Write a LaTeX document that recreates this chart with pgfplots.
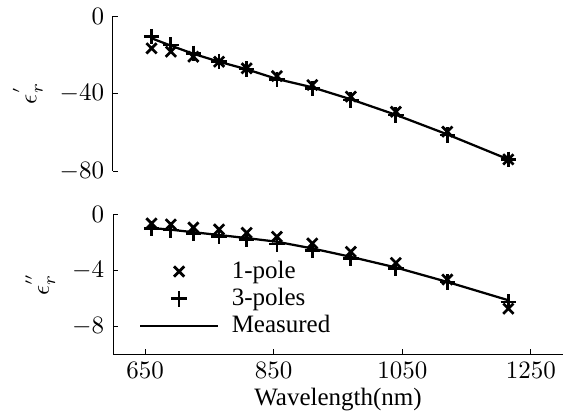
\documentclass[border=0pt]{standalone}
\usepackage{fontspec}
\setmainfont{Liberation Serif}
\usepackage{pgfplots}
\pgfplotsset{compat=1.18}

\begin{document}
\begin{tikzpicture}
\path[use as bounding box] (-45.2pt,-25.6pt) rectangle (184.4pt,141.6pt);
\pgfplotsset{
  epsax/.style={
    scale only axis,
    width=180pt,
    xmin=600, xmax=1300,
    axis y line*=left,
    axis line style={-, line width=0.4pt},
    tick align=inside,
    major tick length=2pt,
    tick style={black, line width=0.4pt},
    anchor=south west,
    xticklabel style={/pgf/number format/1000 sep={}},
  },
  onepole/.style={only marks, mark=x, mark size=2.9pt, line width=1.1pt, black},
  threepole/.style={only marks, mark=+, mark size=3.1pt, line width=1.1pt, black},
  meas/.style={no marks, line width=0.9pt, black},
}
% top: real part
\begin{axis}[epsax,
    at={(0,73.2pt)},
    height=62pt,
    ymin=-80, ymax=0,
    ytick={-80,-40,0},
    axis x line=none,
    ylabel={$\epsilon_r^{'}$},
]
\addplot[onepole] coordinates {(660,-16.7) (690,-18.4) (725,-21) (765,-23.6) (808,-27) (855,-31) (910,-35.6) (970,-41.6) (1040,-49.4) (1120,-59.7) (1215,-74)};
\addplot[threepole] coordinates {(660,-10.7) (690,-15) (725,-19.3) (765,-23.6) (808,-27.3) (855,-32.7) (910,-37.3) (970,-43.4) (1040,-51.1) (1120,-61.4) (1215,-74)};
\addplot[meas] coordinates {(660,-11.5) (690,-15.3) (725,-19.5) (765,-23.6) (808,-27.5) (855,-32.5) (910,-36.8) (970,-43) (1040,-51) (1120,-61.1) (1215,-74)};
\end{axis}
% bottom: imaginary part
\begin{axis}[epsax,
    at={(0,0)},
    height=56pt,
    ymin=-10, ymax=0,
    ytick={-8,-4,0},
    axis x line*=bottom,
    xtick={650,850,1050,1250},
    xlabel={Wavelength(nm)},
    xlabel style={yshift=3pt},
    ylabel={$\epsilon_r^{''}$},
    legend style={draw=none, fill=none, at={(0.04,0.74)}, anchor=north west, row sep=-1.5pt,
      /tikz/every odd column/.append style={column sep=3pt}},
    legend cell align=left,
    legend image code/.code={\draw[mark repeat=2,mark phase=2] plot coordinates {(0pt,0pt) (15.6pt,0pt) (31.2pt,0pt)};},
]
\addplot[onepole] coordinates {(660,-0.67) (690,-0.74) (725,-0.96) (765,-1.1) (808,-1.34) (855,-1.62) (910,-2.1) (970,-2.7) (1040,-3.49) (1120,-4.68) (1215,-6.76)};
\addplot[threepole] coordinates {(660,-1.03) (690,-1.15) (725,-1.39) (765,-1.62) (808,-1.82) (855,-2.15) (910,-2.58) (970,-3.18) (1040,-3.9) (1120,-4.85) (1215,-6.28)};
\addplot[meas] coordinates {(660,-1.0) (690,-1.12) (725,-1.3) (765,-1.5) (808,-1.72) (855,-1.98) (910,-2.46) (970,-3.06) (1040,-3.82) (1120,-4.85) (1215,-6.16)};
\legend{1-pole,3-poles,Measured}
\end{axis}
\end{tikzpicture}
\end{document}
